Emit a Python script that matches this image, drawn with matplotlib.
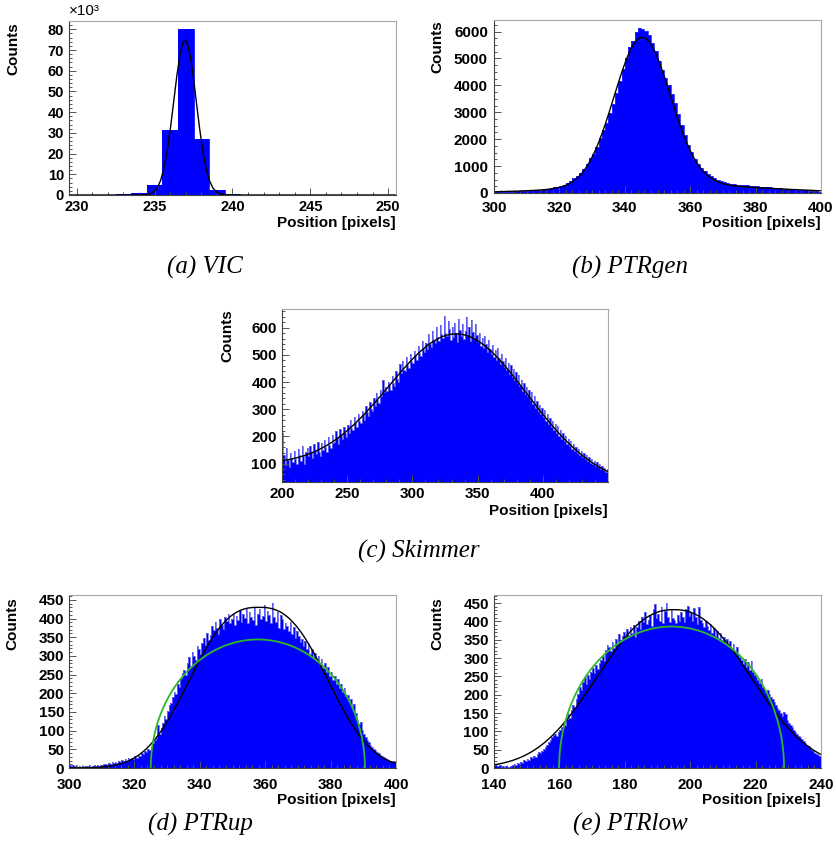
import numpy as np
import matplotlib
matplotlib.use("Agg")
import matplotlib.pyplot as plt
from matplotlib.ticker import MultipleLocator, FixedLocator

# ----------------------------------------------------------------------
# histogram contents (counts per bin)
# ----------------------------------------------------------------------

# VIC: 1 px bins starting at 232.5
vic_start, vic_width = 232.5, 1.0
vic_counts = [400, 970, 4650, 31200, 80000, 27200, 2600, 300]

# PTRgen: 1 px bins, 300 -> 400
gen_start, gen_width = 300.0, 1.0
gen_counts = [
    20, 30, 35, 40, 48, 55, 60, 65, 70, 78,
    85, 95, 105, 115, 128, 142, 160, 180, 205, 235,
    270, 310, 360, 430, 560, 650, 760, 900, 1080, 1290,
    1450, 1700, 2030, 2330, 2620, 2960, 3320, 3720, 4150, 4600,
    5010, 5420, 5660, 5990, 6120, 6110, 6010, 5880, 5560, 5290,
    4920, 4580, 4290, 4000, 3680, 3330, 2920, 2520, 2140, 1780,
    1510, 1270, 1080, 940, 820, 720, 630, 540, 470, 430,
    400, 370, 345, 330, 315, 300, 290, 280, 268, 256,
    245, 235, 225, 215, 205, 195, 185, 175, 165, 155,
    145, 135, 125, 115, 105, 95, 85, 75, 65, 55,
]

# Skimmer: 1 px bins, 200 -> 450
skim_start, skim_width = 200.0, 1.0
skim_counts = [
    214, 131, 96, 158, 112, 87, 139, 121, 104, 146,
    118, 97, 152, 131, 109, 164, 126, 99, 141, 157,
    128, 163, 141, 119, 172, 150, 136, 181, 144, 129,
    176, 149, 188, 161, 143, 197, 170, 158, 206, 175,
    181, 219, 196, 172, 228, 205, 190, 236, 211, 199,
    243, 214, 259, 231, 222, 271, 248, 236, 284, 257,
    251, 293, 277, 262, 311, 289, 276, 326, 301, 292,
    341, 312, 358, 335, 323, 370, 348, 409, 362, 381,
    367, 402, 389, 371, 421, 396, 387, 440, 412, 399,
    465, 433, 478, 446, 439, 492, 461, 452, 505, 476,
    470, 513, 496, 481, 534, 507, 495, 551, 522, 509,
    545, 521, 578, 539, 530, 589, 556, 543, 602, 566,
    552, 611, 578, 563, 643, 581, 570, 625, 594, 556,
    601, 566, 619, 582, 548, 632, 590, 571, 614, 560,
    588, 641, 569, 604, 552, 627, 583, 560, 612, 574,
    546, 581, 534, 562, 527, 570, 541, 512, 556, 520,
    502, 538, 494, 517, 481, 524, 488, 465, 503, 477,
    456, 488, 443, 470, 431, 462, 419, 448, 409, 436,
    397, 425, 384, 409, 368, 395, 356, 381, 347, 370,
    335, 362, 318, 347, 303, 329, 292, 316, 281, 304,
    270, 298, 257, 281, 244, 266, 235, 255, 222, 247,
    214, 238, 203, 225, 191, 213, 182, 201, 172, 190,
    165, 184, 154, 173, 146, 162, 138, 155, 131, 147,
    125, 140, 117, 131, 109, 124, 103, 116, 97, 110,
    92, 104, 86, 97, 80, 90, 75, 84, 70, 79,
]

# PTRup: 0.5 px bins, 300 -> 400
up_start, up_width = 300.0, 0.5
up_counts = [
    8, 6, 9, 5, 7, 4, 6, 3, 5, 4,
    6, 5, 7, 4, 6, 8, 5, 7, 6, 9,
    7, 10, 12, 9, 14, 11, 15, 13, 17, 14,
    18, 16, 21, 19, 24, 20, 26, 23, 28, 25,
    31, 28, 36, 33, 41, 38, 46, 43, 52, 49,
    57, 66, 74, 81, 115, 92, 108, 121, 138, 131,
    152, 168, 175, 191, 204, 198, 226, 218, 241, 254,
    262, 248, 281, 296, 272, 310, 301, 288, 327, 318,
    306, 334, 347, 329, 361, 342, 355, 381, 368, 392,
    376, 359, 398, 384, 371, 405, 393, 412, 387, 399,
    415, 382, 408, 396, 423, 390, 411, 401, 426, 389,
    418, 405, 397, 427, 384, 412, 425, 399, 408, 436,
    394, 421, 410, 388, 441, 403, 392, 417, 376, 409,
    398, 372, 389, 381, 366, 392, 359, 378, 349, 366,
    352, 338, 346, 327, 341, 318, 332, 305, 318, 296,
    309, 287, 301, 276, 292, 268, 281, 257, 270, 246,
    258, 236, 247, 225, 238, 214, 226, 203, 214, 193,
    196, 178, 184, 162, 171, 147, 128, 119, 124, 102,
    91, 84, 76, 69, 62, 57, 51, 47, 43, 40,
    36, 33, 30, 27, 25, 22, 20, 19, 18, 20,
]

# PTRlow: 0.5 px bins, 140 -> 240
low_start, low_width = 140.0, 0.5
low_counts = [
    7, 9, 5, 8, 4, 6, 3, 5, 2, 4,
    5, 8, 11, 9, 14, 12, 17, 15, 21, 19,
    24, 22, 29, 27, 34, 31, 39, 43, 41, 47,
    52, 58, 63, 71, 77, 84, 89, 93, 88, 97,
    104, 112, 121, 118, 133, 148, 137, 159, 172, 166,
    188, 203, 221, 214, 236, 247, 229, 254, 243, 261,
    272, 258, 281, 269, 287, 296, 305, 291, 322, 336,
    331, 318, 345, 327, 352, 339, 366, 348, 359, 371,
    355, 378, 362, 384, 369, 390, 358, 386, 402, 379,
    411, 398, 426, 392, 405, 418, 387, 433, 447, 409,
    421, 402, 438, 395, 428, 449, 411, 399, 432, 408,
    403, 396, 418, 402, 425, 411, 399, 434, 442, 416,
    423, 401, 437, 412, 392, 440, 405, 396, 384, 401,
    388, 376, 394, 368, 382, 361, 373, 356, 369, 349,
    358, 341, 352, 334, 347, 326, 338, 318, 329, 311,
    303, 296, 284, 298, 276, 289, 268, 291, 262, 255,
    248, 239, 231, 244, 222, 215, 208, 212, 201, 194,
    187, 179, 172, 164, 158, 149, 142, 153, 148, 131,
    124, 118, 111, 104, 99, 93, 88, 84, 79, 74,
    69, 64, 59, 54, 50, 46, 42, 38, 35, 33,
]

# fit results
vic_fit = (75000.0, 236.95, 0.72)                      # gaus: amp, mean, sigma
gen_fit = (5500.0, 345.3, 8.6, 300.0, 355.0, 28.0)     # gaus core + wide gaus
skim_fit = (525.0, 335.0, 53.0, 90.0, -0.28)           # gaus + pol1 (about x=200)
up_peak = (430.0, 358.0, 19.7, 2.6)                    # amp, mean, width, power
up_ellipse = (344.0, 357.75, 32.75)                    # height, centre, half width
low_peak = (432.0, 195.0, 22.5, 2.3)
low_ellipse = (386.0, 194.3, 34.4)

captions = ["(a) VIC", "(b) PTRgen", "(c) Skimmer", "(d) PTRup", "(e) PTRlow"]

# ----------------------------------------------------------------------

W, H = 836, 856
BLUE = "#0000ff"
GREEN = "#2cb82c"
sans = "Liberation Sans"


def gaus(x, a, m, s):
    return a * np.exp(-0.5 * ((x - m) / s) ** 2)


def gen_gaus(x, a, m, s, p):
    return a * np.exp(-0.5 * np.abs((x - m) / s) ** p)


def make_axes(fig, x0, y0, x1, y1):
    ax = fig.add_axes([x0 / W, 1 - y1 / H, (x1 - x0) / W, (y1 - y0) / H])
    for side in ["left", "bottom"]:
        ax.spines[side].set_color("#404040")
    for side in ["top", "right"]:
        ax.spines[side].set_color("#a8a8a8")
    for sp in ax.spines.values():
        sp.set_linewidth(0.8)
    ax.tick_params(which="both", direction="in", top=False, right=False,
                   color="#555555", width=0.7)
    ax.tick_params(which="major", length=5)
    ax.tick_params(which="minor", length=2.5)
    ax.tick_params(axis="x", pad=3.6)
    ax.tick_params(axis="y", pad=3.6)
    return ax


def bold_ticks(ax, size=11):
    for lab in ax.get_xticklabels() + ax.get_yticklabels():
        lab.set_fontfamily(sans)
        lab.set_fontweight("bold")
        lab.set_fontsize(size)


def draw_hist(ax, start, width, counts, scale=1.0, edge="#2a2aff"):
    counts = np.asarray(counts, dtype=float) / scale
    edges = start + width * np.arange(len(counts) + 1)
    ax.stairs(counts, edges, fill=True, facecolor=BLUE, edgecolor=BLUE, lw=0)
    ax.stairs(counts, edges, color=edge, lw=0.6)


def ellipse(ax, h, c, r):
    t = np.linspace(0, np.pi, 300)
    ax.plot(c + r * np.cos(t), h * np.sin(t), color=GREEN, lw=1.3)


def titles(fig, x_right, y_xtitle, x_ytitle, y_ytitle_top):
    fig.text(x_right / W, 1 - y_xtitle / H, "Position [pixels]", ha="right",
             va="center", fontsize=11, fontweight="bold", family=sans)
    fig.text(x_ytitle / W, 1 - y_ytitle_top / H, "Counts", ha="center",
             va="top", rotation=90, fontsize=11, fontweight="bold", family=sans)


fig = plt.figure(figsize=(W / 100, H / 100), dpi=100)

# (a) VIC
ax = make_axes(fig, 69, 21, 396, 195)
draw_hist(ax, vic_start, vic_width, vic_counts, scale=1000.0, edge=BLUE)
xf = np.linspace(229.5, 250.5, 101)
ax.plot(xf, gaus(xf, *vic_fit) / 1000.0, color="black", lw=1.0)
ax.set_xlim(229.5, 250.5)
ax.set_ylim(0, 84)
ax.xaxis.set_major_locator(MultipleLocator(5))
ax.xaxis.set_minor_locator(MultipleLocator(1))
ax.yaxis.set_major_locator(MultipleLocator(10))
ax.yaxis.set_minor_locator(MultipleLocator(2))
bold_ticks(ax, 10.5)
titles(fig, 396, 223, 13, 22)
fig.text(69 / W, 1 - 11 / H, "×10³", ha="left", va="center", fontsize=11,
         family=sans)

# (b) PTRgen
ax = make_axes(fig, 494, 20, 821, 193)
draw_hist(ax, gen_start, gen_width, gen_counts)
xf = np.linspace(300, 400, 201)
ax.plot(xf, gaus(xf, *gen_fit[:3]) + gaus(xf, *gen_fit[3:]), color="black", lw=1.0)
ax.set_xlim(300, 400)
ax.set_ylim(0, 6430)
ax.xaxis.set_major_locator(MultipleLocator(20))
ax.xaxis.set_minor_locator(MultipleLocator(2))
ax.yaxis.set_major_locator(MultipleLocator(1000))
ax.yaxis.set_minor_locator(MultipleLocator(250))
ax.tick_params(axis="x", pad=5.6)
ax.tick_params(axis="y", pad=4.4)
bold_ticks(ax)
titles(fig, 821, 223, 437.5, 20)

# (c) Skimmer
ax = make_axes(fig, 282, 309, 608, 482)
draw_hist(ax, skim_start, skim_width, skim_counts, edge="#7070f0")
xf = np.linspace(200, 450, 251)
a, m, s, p0, p1 = skim_fit
ax.plot(xf, gaus(xf, a, m, s) + p0 + p1 * (xf - 200), color="black", lw=1.0)
ax.set_xlim(200, 450)
ax.set_ylim(32, 669)
ax.xaxis.set_major_locator(FixedLocator([200, 250, 300, 350, 400]))
ax.xaxis.set_minor_locator(MultipleLocator(10))
ax.yaxis.set_major_locator(MultipleLocator(100))
ax.yaxis.set_minor_locator(MultipleLocator(20))
bold_ticks(ax)
titles(fig, 608, 511, 227, 309)

# (d) PTRup
ax = make_axes(fig, 69, 595, 396, 768)
draw_hist(ax, up_start, up_width, up_counts, edge="#7070f0")
xf = np.linspace(300, 400, 201)
ax.plot(xf, gen_gaus(xf, *up_peak), color="black", lw=1.0)
ellipse(ax, *up_ellipse)
ax.set_xlim(300, 400)
ax.set_ylim(0, 463)
ax.xaxis.set_major_locator(MultipleLocator(20))
ax.xaxis.set_minor_locator(MultipleLocator(2))
ax.yaxis.set_major_locator(MultipleLocator(50))
ax.yaxis.set_minor_locator(MultipleLocator(10))
ax.tick_params(axis="x", pad=7)
bold_ticks(ax)
titles(fig, 396, 800, 12.5, 597)

# (e) PTRlow
ax = make_axes(fig, 494, 595, 821, 768)
draw_hist(ax, low_start, low_width, low_counts, edge="#7070f0")
xf = np.linspace(140, 240, 201)
ax.plot(xf, gen_gaus(xf, *low_peak), color="black", lw=1.0)
ellipse(ax, *low_ellipse)
ax.set_xlim(140, 240)
ax.set_ylim(0, 472)
ax.xaxis.set_major_locator(MultipleLocator(20))
ax.xaxis.set_minor_locator(MultipleLocator(2))
ax.yaxis.set_major_locator(MultipleLocator(50))
ax.yaxis.set_minor_locator(MultipleLocator(10))
ax.tick_params(axis="x", pad=7)
bold_ticks(ax)
titles(fig, 821, 800, 437.5, 597)

# sub-figure captions
cap_pos = [(205, 267), (630, 267), (419, 551), (200, 824), (630, 824)]
for text, (cx, cy) in zip(captions, cap_pos):
    fig.text(cx / W, 1 - cy / H, text, ha="center", va="center", fontsize=18,
             family="Liberation Serif", style="italic")

fig.savefig("out.png", dpi=100)
